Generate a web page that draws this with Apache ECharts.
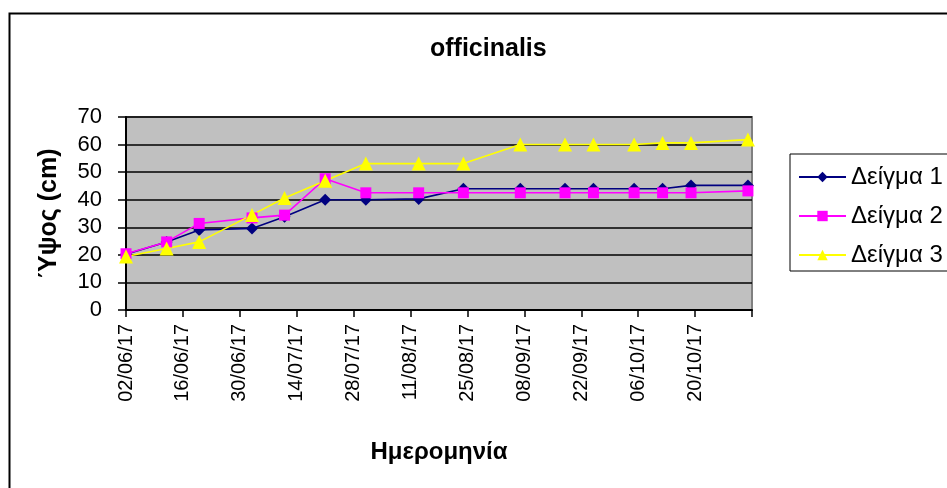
<!DOCTYPE html>
<html>
<head>
<meta charset="utf-8">
<script src="https://cdn.jsdelivr.net/npm/echarts@6/dist/echarts.min.js"></script>
<style>
  html, body { margin: 0; padding: 0; background: #ffffff; }
  #chart { width: 947px; height: 488px; }
</style>
</head>
<body>
<div id="chart"></div>
<script>
// Measurement dates (dd/mm/yy)
const dates = ['02/06/17', '12/06/17', '20/06/17', '03/07/17', '11/07/17', '21/07/17', '31/07/17', '13/08/17',
               '24/08/17', '07/09/17', '18/09/17', '25/09/17', '05/10/17', '12/10/17', '19/10/17', '02/11/17'];
// Plant height (cm) per sample
const sample1 = [20.2, 24.7, 29.0, 29.6, 33.8, 40.0, 40.0, 40.3, 44.0, 44.0, 44.0, 44.0, 44.0, 44.0, 45.2, 45.2];
const sample2 = [20.4, 24.7, 31.4, 33.4, 34.4, 47.6, 42.5, 42.5, 42.5, 42.5, 42.5, 42.5, 42.5, 42.5, 42.5, 43.2];
const sample3 = [19.4, 22.3, 24.7, 34.5, 40.6, 46.9, 53.1, 53.1, 53.1, 60.0, 60.0, 60.0, 60.0, 60.6, 60.6, 61.8];
const seriesNames = ['Δείγμα 1', 'Δείγμα 2', 'Δείγμα 3'];
// Date axis: first day, last day, tick step in days
const axisStart = '02/06/17';
const axisEnd = '03/11/17';
const stepDays = 14;

const DAY = 86400000;
function parseDate(s) {
  const [d, m, y] = s.split('/').map(Number);
  return Date.UTC(2000 + y, m - 1, d);
}
function fmt(n) { return String(n).padStart(2, '0'); }
const t0 = parseDate(axisStart);
const dayOf = s => Math.round((parseDate(s) - t0) / DAY);
const lastDay = dayOf(axisEnd);

function pairs(vals) { return dates.map((d, i) => [dayOf(d), vals[i]]); }

const font = '"Liberation Sans", Arial, sans-serif';
const chart = echarts.init(document.getElementById('chart'), null, { renderer: 'canvas' });

function lineSeries(name, vals, color, symbol, size) {
  return {
    name, type: 'line', data: pairs(vals),
    symbol, symbolSize: size,
    lineStyle: { color, width: 1.6 },
    itemStyle: { color, borderWidth: 0 },
    emphasis: { disabled: true },
    animation: false
  };
}

chart.setOption({
  animation: false,
  textStyle: { fontFamily: font },
  graphic: [{
    type: 'rect', left: 7, top: 11, silent: true,
    shape: { width: 1000, height: 600 },
    style: { fill: 'none', stroke: '#000', lineWidth: 2 }
  }],
  title: {
    text: 'officinalis', left: 425, top: 32,
    textStyle: { fontFamily: font, fontSize: 25, fontWeight: 'bold', color: '#000' }
  },
  legend: {
    orient: 'vertical', left: 790, top: 154,
    padding: [11, 40, 4, 8],
    itemWidth: 47, itemHeight: 13, itemGap: 15,
    borderColor: '#000', borderWidth: 1, backgroundColor: '#fff',
    textStyle: { fontFamily: font, fontSize: 24, color: '#000' },
    data: seriesNames
  },
  grid: {
    left: 126, right: 195, top: 117, bottom: 178,
    show: true, backgroundColor: '#C0C0C0', borderColor: '#808080', borderWidth: 2
  },
  xAxis: {
    type: 'value', min: 0, max: lastDay, interval: stepDays,
    name: 'Ημερομηνία', nameLocation: 'middle', nameGap: 130,
    nameTextStyle: { fontFamily: font, fontSize: 24, fontWeight: 'bold', color: '#000' },
    axisLine: { lineStyle: { color: '#000', width: 2 } },
    axisTick: { show: true, inside: false, length: 7, lineStyle: { color: '#000', width: 1.5 } },
    splitLine: { show: false },
    axisLabel: {
      rotate: 90, fontSize: 20, color: '#000', margin: 14,
      formatter: v => {
        if (v >= lastDay) return '';
        const d = new Date(t0 + v * DAY);
        return fmt(d.getUTCDate()) + '/' + fmt(d.getUTCMonth() + 1) + '/' + String(d.getUTCFullYear()).slice(2);
      }
    }
  },
  yAxis: {
    type: 'value', min: 0, max: 70, interval: 10,
    name: 'Ύψος (cm)', nameLocation: 'middle', nameGap: 64,
    nameTextStyle: { fontFamily: font, fontSize: 25, fontWeight: 'bold', color: '#000' },
    axisLine: { show: true, lineStyle: { color: '#000', width: 2 } },
    axisTick: { show: true, inside: false, length: 8, lineStyle: { color: '#000', width: 1.5 } },
    splitLine: { show: true, lineStyle: { color: '#000', width: 1.5 } },
    axisLabel: { fontSize: 22, color: '#000', margin: 24 }
  },
  series: [
    lineSeries(seriesNames[0], sample1, '#000080', 'diamond', 12),
    lineSeries(seriesNames[1], sample2, '#FF00FF', 'rect', 11),
    lineSeries(seriesNames[2], sample3, '#FFFF00', 'triangle', 14)
  ]
});
</script>
</body>
</html>
